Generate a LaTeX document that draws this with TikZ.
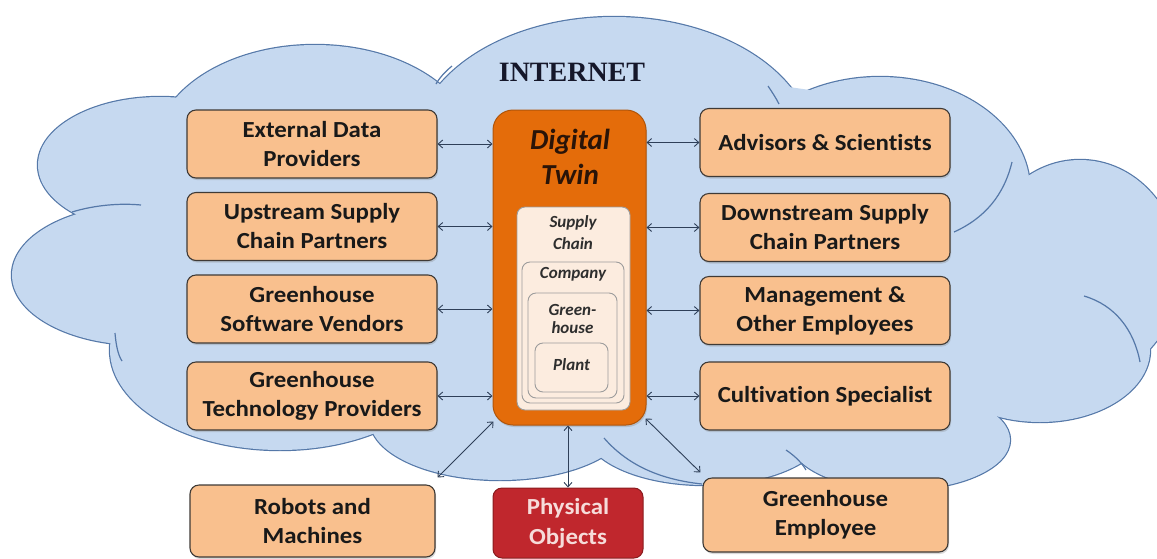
\documentclass[tikz,border=0pt]{standalone}
\usepackage{fontspec}
\setmainfont{Carlito}[Ligatures=NoCommon]
\newfontfamily\boxfont{Carlito}[FakeStretch=1.08, Ligatures=NoCommon]
\newfontfamily\tnr{Liberation Serif}
\usetikzlibrary{arrows.meta,shadows,calc}
\definecolor{cloudfill}{HTML}{C6D9F0}
\definecolor{cloudline}{HTML}{5578A8}
\definecolor{boxfill}{HTML}{F9C08E}
\definecolor{boxline}{HTML}{3F3A36}
\definecolor{dtfill}{HTML}{E46C0A}
\definecolor{dtline}{HTML}{B0550A}
\definecolor{infill}{HTML}{FCECDF}
\definecolor{inline}{HTML}{9C9C9C}
\definecolor{pofill}{HTML}{C0272D}
\definecolor{poline}{HTML}{8A1B1E}
\definecolor{potext}{HTML}{F6DCDA}
\definecolor{arrowc}{HTML}{2E3F58}
\definecolor{dttext}{HTML}{2A1408}
\definecolor{intext}{HTML}{2E2E2E}
\definecolor{titlec}{HTML}{15172A}
\tikzset{
  actor/.style={draw=boxline, line width=1.1pt, fill=boxfill, rounded corners=9pt,
    minimum width=250pt, minimum height=68pt, align=center, text=black!90,
    font=\boxfont\fontsize{23}{29}\selectfont\bfseries,
    drop shadow={opacity=0.3, shadow xshift=1pt, shadow yshift=-2pt}},
  dtbox/.style={draw=dtline, line width=1pt, fill=dtfill, rounded corners=20pt,
    minimum width=153pt, minimum height=315pt,
    drop shadow={opacity=0.3, shadow xshift=1pt, shadow yshift=-2pt}},
  level/.style={draw=inline, line width=0.9pt, fill=infill, rounded corners=8pt},
  leveltext/.style={align=center, text=intext, font=\fontsize{17}{22}\selectfont\bfseries\itshape},
  dttitle/.style={align=center, text=dttext, font=\fontsize{29}{35}\selectfont\bfseries\itshape},
  pobox/.style={draw=poline, line width=1pt, fill=pofill, rounded corners=9pt,
    minimum width=150pt, minimum height=70pt, align=center, text=potext,
    font=\boxfont\fontsize{23}{30}\selectfont\bfseries},
  conn/.style={{Straight Barb[length=4.5pt,width=8pt]}-{Straight Barb[length=4.5pt,width=8pt]},
    draw=arrowc, line width=0.9pt},
  cloudedge/.style={draw=cloudline, line width=2.4pt},
  cloudarc/.style={draw=cloudline, line width=1.2pt},
}
\begin{document}
\begin{tikzpicture}[x=1pt,y=-1pt]
\useasboundingbox (0,0) rectangle (1157,558);
% cloud
\foreach \cx/\cy/\rx/\ry in {315/150/160/105, 614/150/200/133, 880/190/150/113,
  1080/270/100/110, 1040/350/110/72, 900/440/110/50, 705/430/120/55,
  500/420/130/60, 280/350/170/100, 140/275/128/70, 160/165/122/68}
  \draw[cloudedge] (\cx,\cy) ellipse [x radius=\rx pt, y radius=\ry pt];
\foreach \cx/\cy/\rx/\ry in {315/150/160/105, 614/150/200/133, 880/190/150/113,
  1080/270/100/110, 1040/350/110/72, 900/440/110/50, 705/430/120/55,
  500/420/130/60, 280/350/170/100, 140/275/128/70, 160/165/122/68}
  \fill[cloudfill] (\cx,\cy) ellipse [x radius=\rx pt, y radius=\ry pt];
\fill[cloudfill] (200,120) -- (600,60) -- (880,100) -- (1050,220) -- (1080,360)
  -- (950,430) -- (500,430) -- (250,420) -- (120,300) -- (100,200) -- cycle;
% inner arcs of the cloud
\draw[cloudarc] (452,66) .. controls (446,71) and (440,77) .. (436,84);
\draw[cloudarc] (768,86) .. controls (772,92) and (776,98) .. (779,104);
\draw[cloudarc] (1012,162) .. controls (1004,195) and (985,218) .. (954,232);
\draw[cloudarc] (1084,296) .. controls (1115,305) and (1134,330) .. (1140,362);
\draw[cloudarc] (72,212) .. controls (95,205) and (120,203) .. (141,205);
\draw[cloudarc] (115,333) .. controls (116,345) and (118,355) .. (122,361);
\draw[cloudarc] (604,438) .. controls (630,468) and (665,480) .. (702,484);
\draw[cloudarc] (786,450) .. controls (795,456) and (802,463) .. (806,470);

\node[text=titlec, font=\tnr\fontsize{28}{30}\selectfont\bfseries] (inet) at (572,72) {INTERNET};

% digital twin
\node[dtbox] (dt) at (569.5,267.5) {};
\node[dttitle] (dtl) at (570,157) {Digital\\Twin};
\node[level, minimum width=113pt, minimum height=203pt] (sc) at (573.5,308.5) {};
\node[level, minimum width=102pt, minimum height=141pt] (co) at (573,332.5) {};
\node[level, minimum width=89pt, minimum height=105pt] (gh) at (572.5,345.5) {};
\node[level, minimum width=73pt, minimum height=49pt] (pl) at (571.5,367.5) {};
\node[leveltext] (sct) at (573,233) {Supply\\Chain};
\node[leveltext] (cot) at (573,274) {Company};
\node[leveltext, font=\fontsize{17}{18}\selectfont\bfseries\itshape] (ght) at (572.5,319) {Green-\\house};
\node[leveltext] (plt) at (571.5,365) {Plant};

% left column
\node[actor] (edp) at (312,144) {External Data\\Providers};
\node[actor] (usc) at (312,226.5) {Upstream Supply\\Chain Partners};
\node[actor] (gsv) at (312,309) {Greenhouse\\Software Vendors};
\node[actor] (gtp) at (312,396) {Greenhouse\\Technology Providers};
% right column
\node[actor] (as) at (825,142.5) {Advisors \& Scientists};
\node[actor] (dsc) at (825,227.5) {Downstream Supply\\Chain Partners};
\node[actor] (moe) at (825,310.5) {Management \&\\Other Employees};
\node[actor] (cs) at (825,396) {Cultivation Specialist};
% bottom
\node[actor, minimum width=245pt, minimum height=72pt] (rm) at (312.5,521) {Robots and\\Machines};
\node[pobox] (po) at (568,523) {Physical\\Objects};
\node[actor, minimum width=245pt, minimum height=74pt] (ge) at (825.5,515) {Greenhouse\\Employee};

% connectors
\foreach \n in {edp,usc,gsv,gtp}
  \draw[conn] (\n.east) -- (\n.east -| dt.west);
\foreach \n in {as,dsc,moe,cs}
  \draw[conn] (\n.west -| dt.east) -- (\n.west);
\draw[conn] ($(dt.south west)+(1,-4)$) -- ($(rm.north east)+(2,-7)$);
\draw[conn] (po.north |- dt.south) -- (po.north);
\draw[conn] ($(dt.south east)+(-1,-7)$) -- ($(ge.north west)+(-2,-5)$);
\end{tikzpicture}
\end{document}
